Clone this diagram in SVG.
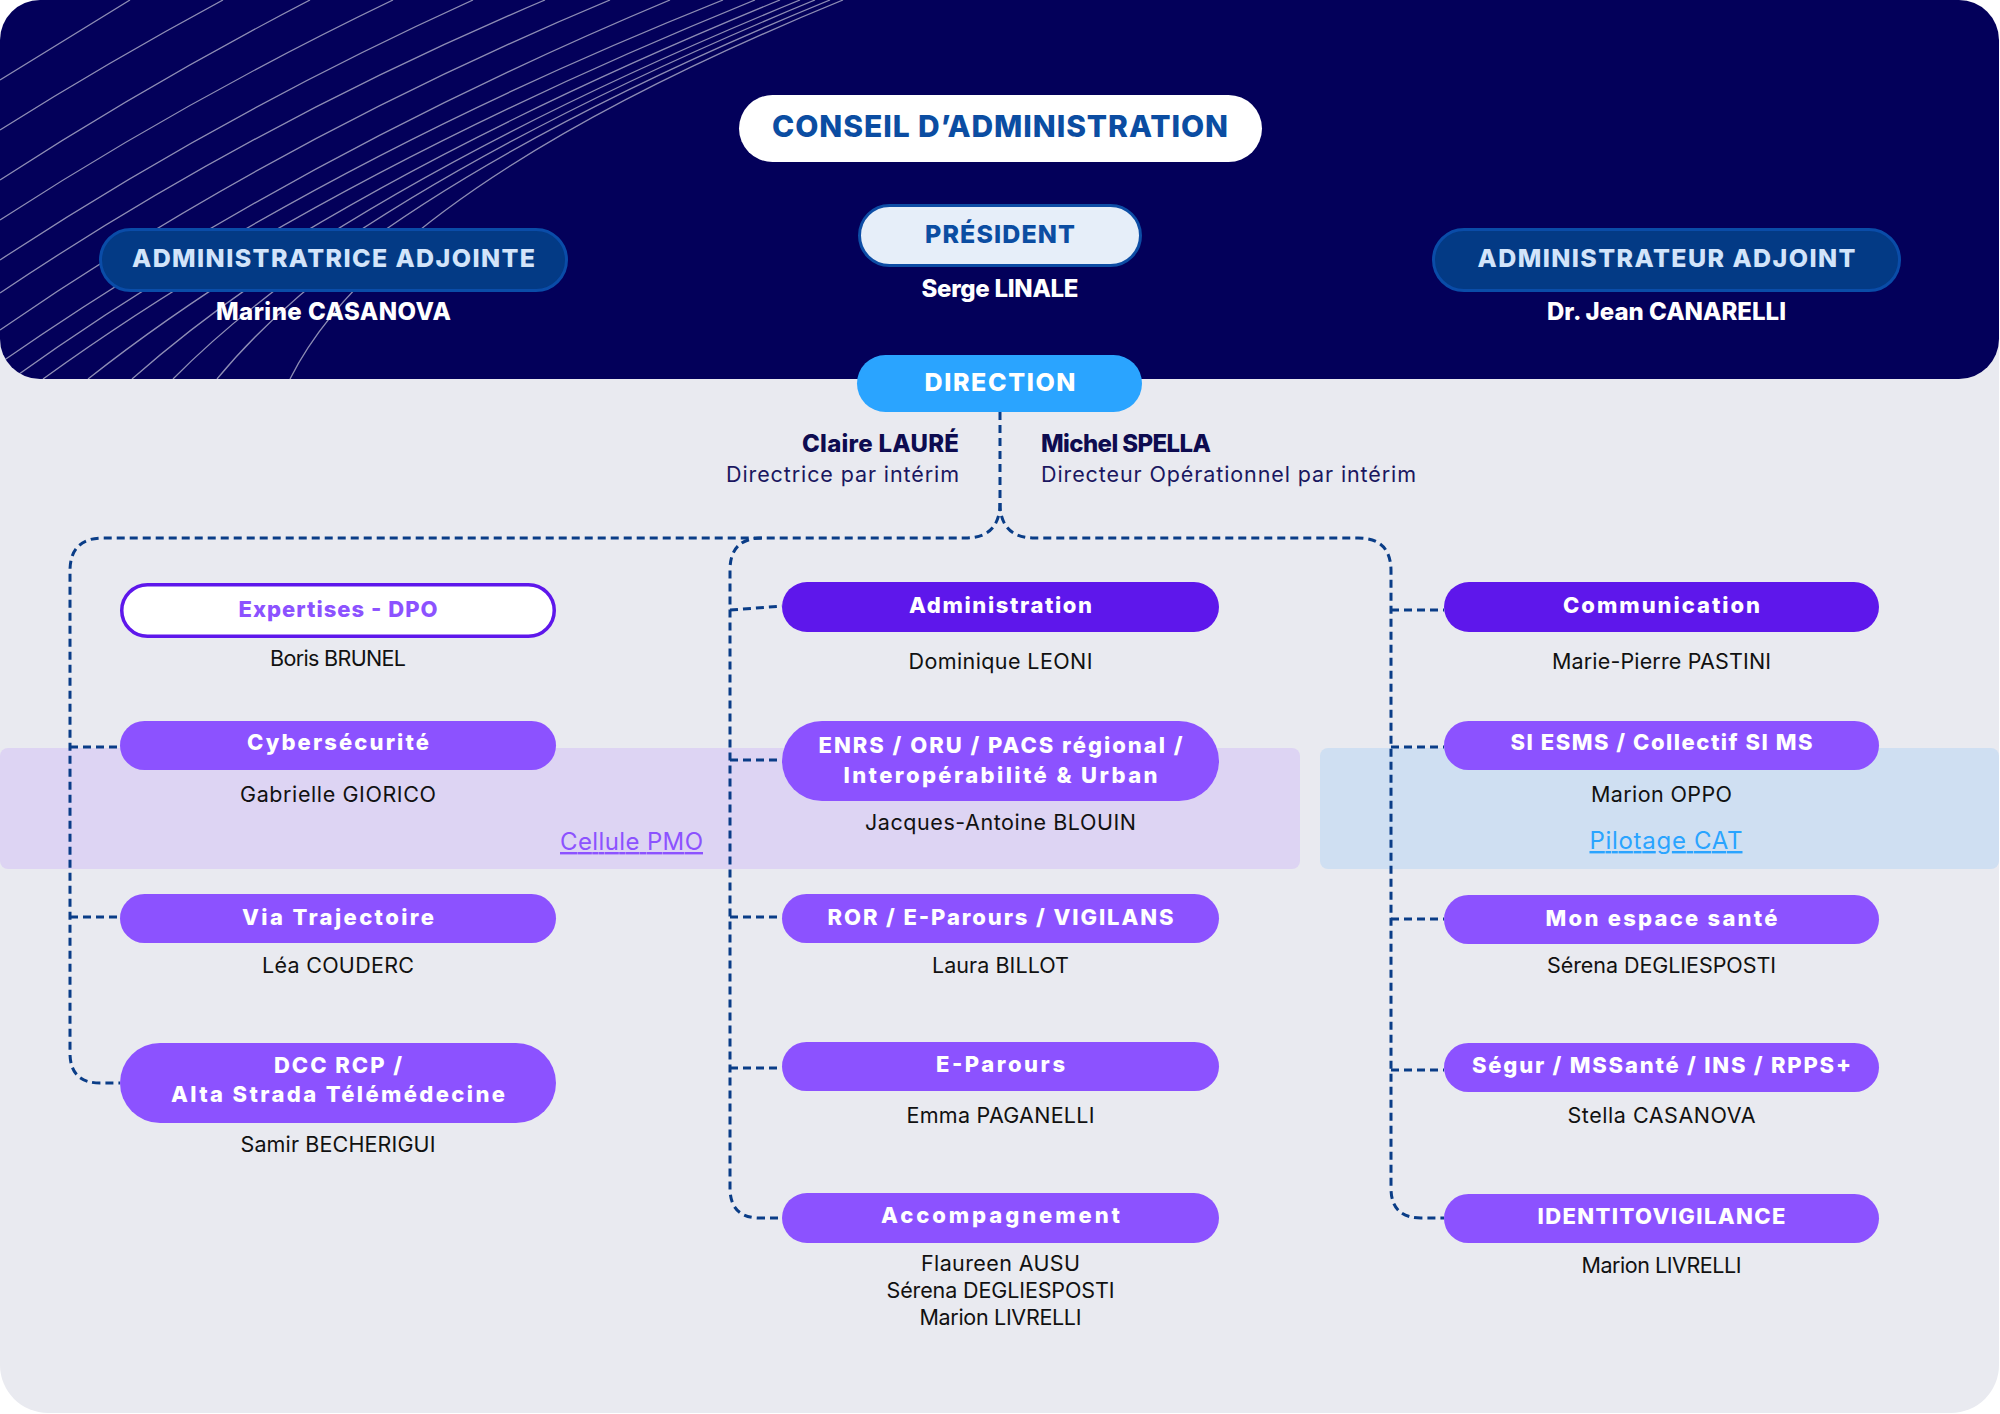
<svg xmlns="http://www.w3.org/2000/svg" width="2000" height="1414" viewBox="0 0 2000 1414">
<defs>
<clipPath id="panelClip"><rect x="0" y="0" width="1999" height="379" rx="40"/></clipPath>
<style>
text{font-family:Inter,"Liberation Sans","DejaVu Sans",sans-serif}
.hd{font-weight:800;text-anchor:middle}
.lbl{font-weight:800;font-size:22px;fill:#fff;text-anchor:middle}
.nm{font-size:21.5px;fill:#111;text-anchor:middle}
.dk{fill:#5E17EB}
.lt{fill:#8C52FF}
.conn{fill:none;stroke:#0A3D87;stroke-width:3;stroke-dasharray:8 5}
.hatch{fill:none;stroke:#ffffff;stroke-opacity:0.55;stroke-width:1.3}
</style>
</defs>
<rect x="0" y="0" width="2000" height="1414" fill="#ffffff"/>
<rect x="0" y="0" width="1999" height="1413" rx="48" fill="#E9EAF0"/>
<rect x="0" y="0" width="1999" height="379" rx="40" fill="#03005A"/>
<g clip-path="url(#panelClip)" class="hatch">
<path d="M0,80 Q65,40 130,0"/>
<path d="M0,130 Q108,62 223,0"/>
<path d="M0,180 Q148,84 310,0"/>
<path d="M0,220 Q185,100 393,0"/>
<path d="M0,260 Q220,115 473,0"/>
<path d="M0,293 Q250,125 545,0"/>
<path d="M0,330 Q275,140 610,0"/>
<path d="M0,363 Q300,155 670,0"/>
<path d="M12,379 Q310,165 723,0"/>
<path d="M43,379 Q325,175 755,0"/>
<path d="M88,379 Q340,180 780,0"/>
<path d="M132,379 Q355,182 800,0"/>
<path d="M173,379 Q365,185 815,0"/>
<path d="M217,379 Q375,186 830,0"/>
<path d="M290,379 Q386,187 843,0"/>
</g>
<rect x="0" y="748" width="1300" height="121" rx="8" fill="#DDD4F3"/>
<rect x="1320" y="748" width="679" height="121" rx="8" fill="#CFDFF2"/>
<text x="560" y="850" font-size="24" fill="#8C52FF" text-decoration="underline" textLength="143">Cellule PMO</text>
<text x="1666" y="849" font-size="24" fill="#2AA4FF" text-decoration="underline" text-anchor="middle" textLength="153">Pilotage CAT</text>
<g id="connectors" class="conn">
<path d="M1000,412 V503"/>
<path d="M1000,503 Q1000,538 965,538 H103 Q70,538 70,571 V1053 Q70,1083 100,1083 H120"/>
<path d="M1000,503 Q1000,538 1035,538 H1358 Q1391,538 1391,571 V1188 Q1391,1218 1421,1218 H1444"/>
<path d="M762,538 Q730,538 730,570 V1188 Q730,1218 760,1218 H782"/>
<path d="M70,747 H120"/>
<path d="M70,917 H120"/>
<path d="M730,610 L782,606"/>
<path d="M730,760 H782"/>
<path d="M730,917 H782"/>
<path d="M730,1068 H782"/>
<path d="M1391,610 H1444"/>
<path d="M1391,747 H1444"/>
<path d="M1391,919 H1444"/>
<path d="M1391,1070 H1444"/>
</g>
<g id="conseil">
<rect x="739" y="95" width="523" height="67" rx="33.5" fill="#ffffff"/>
<text class="hd" x="1000" y="137" font-size="30" fill="#0B4DA2" textLength="456">CONSEIL D’ADMINISTRATION</text>
</g>
<g id="president">
<rect x="859.5" y="205.5" width="281" height="60" rx="30" fill="#E6EEF9" stroke="#0D4DA5" stroke-width="3"/>
<text class="hd" x="1000" y="243" font-size="25" fill="#0B4DA2" textLength="150">PRÉSIDENT</text>
<text class="hd" x="1000" y="297" font-size="24" fill="#ffffff" textLength="157">Serge LINALE</text>
</g>
<g id="admin-adjointe">
<rect x="100.5" y="229.5" width="466" height="61" rx="30.5" fill="#033A85" stroke="#0A4CA8" stroke-width="3"/>
<text class="hd" x="333.5" y="267" font-size="25" fill="#D2E4FA" textLength="403">ADMINISTRATRICE ADJOINTE</text>
<text class="hd" x="333.5" y="320" font-size="24" fill="#ffffff" textLength="235">Marine CASANOVA</text>
</g>
<g id="admin-adjoint">
<rect x="1433.5" y="229.5" width="466" height="61" rx="30.5" fill="#033A85" stroke="#0A4CA8" stroke-width="3"/>
<text class="hd" x="1666.5" y="267" font-size="25" fill="#D2E4FA" textLength="378">ADMINISTRATEUR ADJOINT</text>
<text class="hd" x="1666.5" y="320" font-size="24" fill="#ffffff" textLength="239">Dr. Jean CANARELLI</text>
</g>
<g id="direction">
<rect x="857" y="355" width="285" height="57" rx="28.5" fill="#2AA4FF"/>
<text class="hd" x="1000" y="391" font-size="25" fill="#ffffff" textLength="151">DIRECTION</text>
<text x="959" y="452" font-size="24" font-weight="800" fill="#0E0C50" text-anchor="end" textLength="157">Claire LAURÉ</text>
<text x="959" y="482" font-size="21.5" fill="#1A1760" text-anchor="end" textLength="233">Directrice par intérim</text>
<text x="1041" y="452" font-size="24" font-weight="800" fill="#0E0C50" textLength="170">Michel SPELLA</text>
<text x="1041" y="482" font-size="21.5" fill="#1A1760" textLength="375">Directeur Opérationnel par intérim</text>
</g>
<g id="expertises-dpo">
<rect x="121.75" y="584.75" width="432.5" height="51.5" rx="25.75" fill="#ffffff" stroke="#5E17EB" stroke-width="3.5"/>
<text class="lbl" x="338" y="617" style="fill:#8C52FF" textLength="199">Expertises - DPO</text>
<text class="nm" x="338" y="666" textLength="136">Boris BRUNEL</text>
</g>
<g id="administration">
<rect class="dk" x="782" y="582" width="437" height="50" rx="25"/>
<text class="lbl" x="1000.5" y="613" textLength="183">Administration</text>
<text class="nm" x="1000.5" y="669" textLength="184">Dominique LEONI</text>
</g>
<g id="communication">
<rect class="dk" x="1444" y="582" width="435" height="50" rx="25"/>
<text class="lbl" x="1661.5" y="613" textLength="197">Communication</text>
<text class="nm" x="1661.5" y="669" textLength="219">Marie-Pierre PASTINI</text>
</g>
<g id="cybersecurite">
<rect class="lt" x="120" y="721" width="436" height="49" rx="24.5"/>
<text class="lbl" x="338" y="750" textLength="182">Cybersécurité</text>
<text class="nm" x="338" y="802" textLength="196">Gabrielle GIORICO</text>
</g>
<g id="enrs">
<rect class="lt" x="782" y="721" width="437" height="80" rx="40"/>
<text class="lbl" x="1000.5" y="753" textLength="364">ENRS / ORU / PACS régional /</text>
<text class="lbl" x="1000.5" y="783" textLength="314">Interopérabilité &amp; Urban</text>
<text class="nm" x="1000.5" y="830" textLength="271">Jacques-Antoine BLOUIN</text>
</g>
<g id="si-esms">
<rect class="lt" x="1444" y="721" width="435" height="49" rx="24.5"/>
<text class="lbl" x="1661.5" y="750" textLength="302">SI ESMS / Collectif SI MS</text>
<text class="nm" x="1661.5" y="802" textLength="141">Marion OPPO</text>
</g>
<g id="via-trajectoire">
<rect class="lt" x="120" y="894" width="436" height="49" rx="24.5"/>
<text class="lbl" x="338" y="925" textLength="192">Via Trajectoire</text>
<text class="nm" x="338" y="973" textLength="152">Léa COUDERC</text>
</g>
<g id="ror">
<rect class="lt" x="782" y="894" width="437" height="49" rx="24.5"/>
<text class="lbl" x="1000.5" y="925" textLength="346">ROR / E-Parours / VIGILANS</text>
<text class="nm" x="1000.5" y="973" textLength="137">Laura BILLOT</text>
</g>
<g id="mon-espace-sante">
<rect class="lt" x="1444" y="895" width="435" height="49" rx="24.5"/>
<text class="lbl" x="1661.5" y="926" textLength="232">Mon espace santé</text>
<text class="nm" x="1661.5" y="973" textLength="229">Sérena DEGLIESPOSTI</text>
</g>
<g id="dcc">
<rect class="lt" x="120" y="1043" width="436" height="80" rx="40"/>
<text class="lbl" x="338" y="1073" textLength="128">DCC RCP /</text>
<text class="lbl" x="338" y="1102" textLength="334">Alta Strada Télémédecine</text>
<text class="nm" x="338" y="1152" textLength="195">Samir BECHERIGUI</text>
</g>
<g id="e-parours">
<rect class="lt" x="782" y="1042" width="437" height="49" rx="24.5"/>
<text class="lbl" x="1000.5" y="1072" textLength="129">E-Parours</text>
<text class="nm" x="1000.5" y="1123" textLength="188">Emma PAGANELLI</text>
</g>
<g id="segur">
<rect class="lt" x="1444" y="1043" width="435" height="49" rx="24.5"/>
<text class="lbl" x="1661.5" y="1073" textLength="379">Ségur / MSSanté / INS / RPPS+</text>
<text class="nm" x="1661.5" y="1123" textLength="188">Stella CASANOVA</text>
</g>
<g id="accompagnement">
<rect class="lt" x="782" y="1193" width="437" height="50" rx="25"/>
<text class="lbl" x="1000.5" y="1223" textLength="239">Accompagnement</text>
<text class="nm" x="1000.5" y="1271" textLength="159">Flaureen AUSU</text>
<text class="nm" x="1000.5" y="1298" textLength="228">Sérena DEGLIESPOSTI</text>
<text class="nm" x="1000.5" y="1325" textLength="162">Marion LIVRELLI</text>
</g>
<g id="identitovigilance">
<rect class="lt" x="1444" y="1194" width="435" height="49" rx="24.5"/>
<text class="lbl" x="1661.5" y="1224" textLength="248">IDENTITOVIGILANCE</text>
<text class="nm" x="1661.5" y="1273" textLength="160">Marion LIVRELLI</text>
</g>
</svg>
